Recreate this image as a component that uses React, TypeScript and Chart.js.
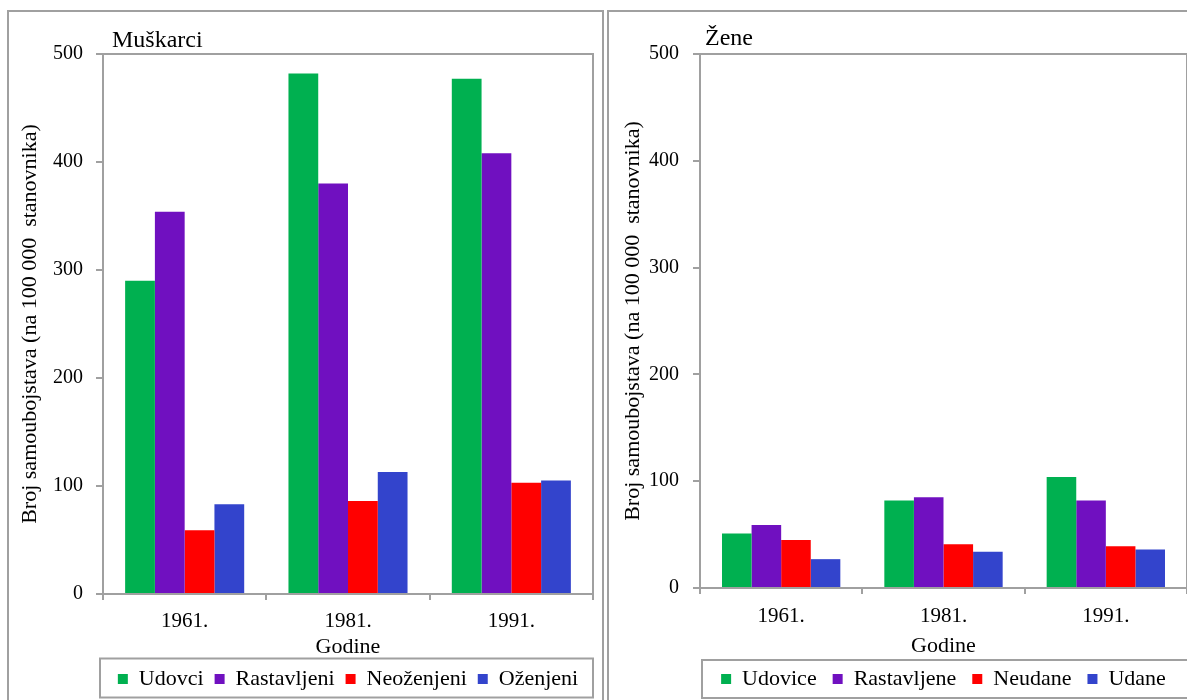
import React, { useEffect, useRef } from "react";
import { Chart, registerables } from "chart.js";

Chart.register(...registerables);

// ---------- data ----------
const years = ["1961.", "1981.", "1991."];

const menTitle = "Muškarci";
const menLabels = ["Udovci", "Rastavljeni", "Neoženjeni", "Oženjeni"];
const menUdovci = [290, 482, 477];
const menRastavljeni = [354, 380, 408];
const menNeozenjeni = [59, 86, 103];
const menOzenjeni = [83, 113, 105];

const womenTitle = "Žene";
const womenLabels = ["Udovice", "Rastavljene", "Neudane", "Udane"];
const womenUdovice = [51, 82, 104];
const womenRastavljene = [59, 85, 82];
const womenNeudane = [45, 41, 39];
const womenUdane = [27, 34, 36];

const yMin = 0;
const yMax = 500;
const yStep = 100;

const yAxisTitle = "Broj samoubojstava (na 100 000  stanovnika)";
const xAxisTitle = "Godine";

const seriesColors = ["#00B050", "#7010C0", "#FF0000", "#3344CC"];

// ---------- styling ----------
const FONT = "'Liberation Serif', 'Times New Roman', serif";
const GREY = "#A0A0A0";
Chart.defaults.font.family = FONT;
Chart.defaults.color = "#000";

type Layout = {
  padRight: number;
  legendPad: number;
  xTickPad: number;
  xHeight: number;
  xTitlePadBottom: number;
  yTickPad: number;
  yWidth: number;
  yTitlePad: number;
  boxDx: number;
  boxRight: number;
  boxTop: number;
  boxH: number;
  titleDx: number;
  titleDy: number;
};

const leftLayout: Layout = {
  padRight: 9,
  legendPad: 11,
  xTickPad: 9,
  xHeight: 63,
  xTitlePadBottom: -1,
  yTickPad: 13,
  yWidth: 94,
  yTitlePad: 8,
  boxDx: -3,
  boxRight: 0,
  boxTop: 1.5,
  boxH: 39,
  titleDx: 9,
  titleDy: 7,
};

const rightLayout: Layout = {
  padRight: 15,
  legendPad: 16,
  xTickPad: 10,
  xHeight: 64,
  xTitlePadBottom: -5,
  yTickPad: 14,
  yWidth: 91,
  yTitlePad: 11,
  boxDx: 2,
  boxRight: 12,
  boxTop: 8,
  boxH: 38,
  titleDx: 5,
  titleDy: 9,
};

const CW = 593;
const CH = 700;

function Panel(props: {
  title: string;
  labels: string[];
  series: number[][];
  L: Layout;
  left: number;
}) {
  const ref = useRef<HTMLCanvasElement | null>(null);
  useEffect(() => {
    if (!ref.current) return;
    const { L, title } = props;
    const framePlugin = {
      id: "frame",
      afterDraw(chart: any) {
        const { ctx, chartArea: a } = chart;
        ctx.save();
        ctx.strokeStyle = GREY;
        ctx.lineWidth = 2;
        ctx.beginPath();
        ctx.moveTo(a.left, a.top);
        ctx.lineTo(a.right, a.top);
        ctx.lineTo(a.right, a.bottom);
        ctx.stroke();
        const lg = chart.legend;
        const bx = a.left + L.boxDx;
        ctx.strokeRect(bx, lg.top + L.boxTop, a.right + L.boxRight - bx, L.boxH);
        ctx.fillStyle = "#000";
        ctx.font = `24px ${FONT}`;
        ctx.textBaseline = "alphabetic";
        ctx.textAlign = "left";
        ctx.fillText(title, a.left + L.titleDx, a.top - L.titleDy);
        ctx.restore();
      },
    };
    const chart = new Chart(ref.current, {
      type: "bar",
      data: {
        labels: years,
        datasets: props.labels.map((l, i) => ({
          label: l,
          data: props.series[i],
          backgroundColor: seriesColors[i],
          borderWidth: 0,
          barPercentage: 1,
          categoryPercentage: 0.729,
        })),
      },
      options: {
        responsive: false,
        animation: false,
        devicePixelRatio: 1,
        layout: { padding: { top: 42, right: L.padRight, bottom: 12, left: 0 } },
        plugins: {
          title: { display: false },
          tooltip: { enabled: false },
          legend: {
            position: "bottom",
            fullSize: false,
            align: "center",
            labels: {
              boxWidth: 10,
              boxHeight: 10,
              padding: L.legendPad,
              color: "#000",
              font: { size: 22 },
            },
          },
        },
        scales: {
          x: {
            grid: {
              display: true,
              drawOnChartArea: false,
              drawTicks: true,
              tickLength: 6,
              color: GREY,
              lineWidth: 2,
              offset: true,
            },
            border: { display: true, color: GREY, width: 2 },
            ticks: { color: "#000", font: { size: 21 }, padding: L.xTickPad, maxRotation: 0 },
            title: {
              display: true,
              text: xAxisTitle,
              color: "#000",
              font: { size: 22, lineHeight: 1 },
              padding: { top: 0, bottom: L.xTitlePadBottom },
            },
            afterFit: (s: any) => {
              s.height = L.xHeight;
            },
          },
          y: {
            min: yMin,
            max: yMax,
            ticks: { stepSize: yStep, color: "#000", font: { size: 20 }, padding: L.yTickPad },
            grid: {
              drawOnChartArea: false,
              drawTicks: true,
              tickLength: 7,
              color: GREY,
              lineWidth: 2,
            },
            border: { display: true, color: GREY, width: 2 },
            title: {
              display: true,
              text: yAxisTitle,
              color: "#000",
              font: { size: 22, lineHeight: 1.2 },
              padding: { top: L.yTitlePad, bottom: 0 },
            },
            afterFit: (s: any) => {
              s.width = L.yWidth;
            },
          },
        },
      } as any,
      plugins: [framePlugin],
    });
    return () => chart.destroy();
  }, []);

  return (
    <div
      style={{
        position: "absolute",
        left: props.left,
        top: 10,
        width: CW,
        height: CH,
        border: `2px solid ${GREY}`,
        background: "#fff",
      }}
    >
      <canvas ref={ref} width={CW} height={CH} style={{ display: "block" }} />
    </div>
  );
}

export default function App() {
  return (
    <div
      style={{
        position: "absolute",
        left: 0,
        top: 0,
        width: 1187,
        height: 700,
        overflow: "hidden",
        background: "#fff",
      }}
    >
      <Panel
        title={menTitle}
        labels={menLabels}
        series={[menUdovci, menRastavljeni, menNeozenjeni, menOzenjeni]}
        L={leftLayout}
        left={7}
      />
      <Panel
        title={womenTitle}
        labels={womenLabels}
        series={[womenUdovice, womenRastavljene, womenNeudane, womenUdane]}
        L={rightLayout}
        left={607}
      />
    </div>
  );
}
